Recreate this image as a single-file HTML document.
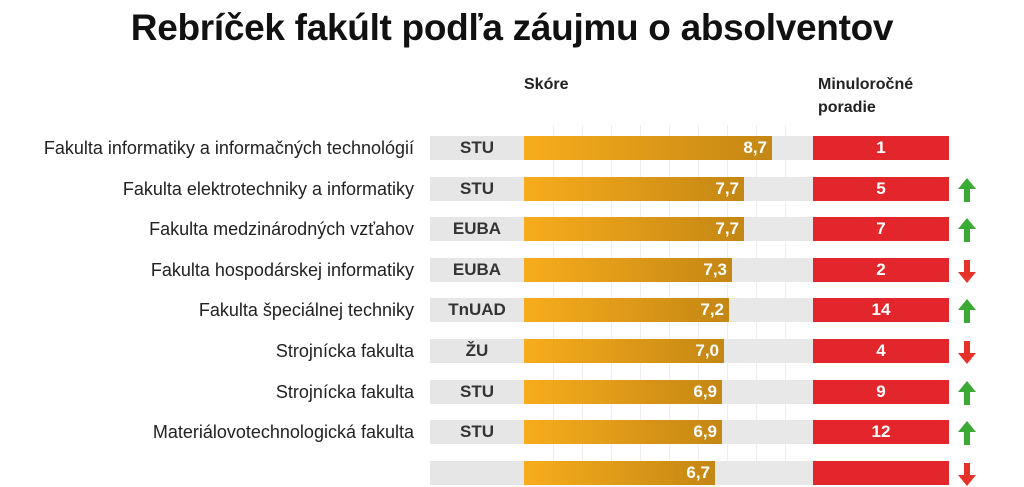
<!DOCTYPE html><html><head><meta charset="utf-8"><style>
body{margin:0;width:1024px;height:461px;overflow:hidden;background:#fff;font-family:"Liberation Sans",sans-serif;position:relative}
.t{position:absolute;left:0;width:1024px;top:7px;text-align:center;font-weight:bold;font-size:37px;color:#111;letter-spacing:-0.3px}
.h{position:absolute;font-weight:bold;font-size:16px;color:#222;line-height:23px}
.g{position:absolute;top:125px;width:1px;height:340px;background:#eee}
.row{position:absolute;left:0;width:1024px;height:25px}
.lab{position:absolute;right:610px;top:2px;font-size:18px;color:#222;white-space:nowrap}
.u{position:absolute;left:430px;width:94px;height:24px;background:#e6e6e6;font-weight:bold;font-size:17px;color:#333;text-align:center;line-height:24px}
.tr{position:absolute;left:524px;width:290px;height:24px;background:#e8e8e8}
.b{position:absolute;left:524px;height:24px;background:linear-gradient(90deg,#f8ac1c,#c48714);color:#fff;font-weight:bold;font-size:17px;text-align:right;line-height:24px;box-sizing:border-box;padding-right:5px}
.r{position:absolute;left:813px;width:136px;height:24px;background:#e3262c;color:#fff;font-weight:bold;font-size:17px;text-align:center;line-height:24px}
.a{position:absolute;left:957px;top:0}
</style></head><body>
<div class="t">Rebríček fakúlt podľa záujmu o absolventov</div>
<div class="h" style="left:524px;top:73px">Skóre</div>
<div class="h" style="left:818px;top:73px">Minuloročné<br>poradie</div>
<div class="g" style="left:553px"></div><div class="g" style="left:582px"></div><div class="g" style="left:611px"></div><div class="g" style="left:640px"></div><div class="g" style="left:669px"></div><div class="g" style="left:698px"></div><div class="g" style="left:727px"></div><div class="g" style="left:756px"></div><div class="g" style="left:785px"></div>
<div id="rows"></div>
<script>
var d=[["Fakulta informatiky a informačných technológií","STU","8,7",248,"1",0],
["Fakulta elektrotechniky a informatiky","STU","7,7",220,"5",1],
["Fakulta medzinárodných vzťahov","EUBA","7,7",220,"7",1],
["Fakulta hospodárskej informatiky","EUBA","7,3",208,"2",-1],
["Fakulta špeciálnej techniky","TnUAD","7,2",205,"14",1],
["Strojnícka fakulta","ŽU","7,0",200,"4",-1],
["Strojnícka fakulta","STU","6,9",198,"9",1],
["Materiálovotechnologická fakulta","STU","6,9",198,"12",1],
["","","6,7",191,"",-1]];
var h="";
d.forEach(function(r,i){var y=136+i*40.6;
var ar=r[5]==1?'<svg class="a" width="20" height="26"><polygon points="10,1 19,12 13,12 13,25 7,25 7,12 1,12" fill="#3aaa35"/></svg>':r[5]==-1?'<svg class="a" width="20" height="26"><polygon points="10,25 19,14 13,14 13,2 7,2 7,14 1,14" fill="#e5332a"/></svg>':'';
h+='<div class="row" style="top:'+y+'px"><div class="lab">'+r[0]+'</div><div class="u">'+r[1]+'</div><div class="tr"></div><div class="b" style="width:'+r[3]+'px">'+r[2]+'</div><div class="r">'+r[4]+'</div>'+ar+'</div>';});
document.getElementById("rows").innerHTML=h;
</script>
</body></html>
